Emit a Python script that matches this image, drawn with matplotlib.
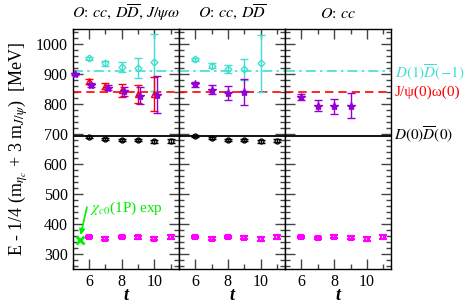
import numpy as np
import matplotlib
matplotlib.use("Agg")
import matplotlib.pyplot as plt
from matplotlib.ticker import MultipleLocator

plt.rcParams['font.family'] = ['Liberation Serif', 'DejaVu Serif']
plt.rcParams['mathtext.fontset'] = 'stix'

# thresholds (MeV)
thr_d1d1 = 910
thr_jpsiomega = 840
thr_d0d0 = 692
chi_c0_exp = 346

# panel 1: O: cc, DDbar, J/psi omega
p1_cyan_t = [6, 7, 8, 9, 10]
p1_cyan_E = [953, 936, 923, 920, 939]
p1_cyan_err = [5, 8, 16, 33, 95]

p1_red_t = [6, 7, 8, 9, 10]
p1_red_E = [876, 860, 846, 833, 834]
p1_red_err = [8, 11, 21, 30, 57]

p1_purple_t = [5, 6, 7, 8, 9, 10]
p1_purple_E = [900, 863, 855, 843, 828, 831]
p1_purple_err = [4, 6, 9, 15, 29, 62]

p1_black_t = [6, 7, 8, 9, 10, 11]
p1_black_E = [691, 684, 680, 679, 675, 676]
p1_black_err = [3, 3, 3, 4, 6, 6]

p1_mag_t = [6, 7, 8, 9, 10, 11]
p1_mag_E = [355, 350, 356, 354, 350, 355]
p1_mag_err = [4, 4, 4, 5, 6, 6]

# panel 2: O: cc, DDbar
p2_cyan_t = [6, 7, 8, 9, 10]
p2_cyan_E = [949, 928, 917, 916, 936]
p2_cyan_err = [6, 9, 13, 35, 95]

p2_purple_t = [6, 7, 8, 9]
p2_purple_E = [866, 848, 838, 840]
p2_purple_err = [8, 16, 23, 43]

p2_black_t = [6, 7, 8, 9, 10, 11]
p2_black_E = [694, 687, 680, 679, 675, 678]
p2_black_err = [3, 3, 3, 4, 6, 6]

p2_mag_t = [6, 7, 8, 9, 10, 11]
p2_mag_E = [355, 350, 356, 353, 349, 355]
p2_mag_err = [4, 4, 4, 5, 6, 6]

# panel 3: O: cc
p3_purple_t = [6, 7, 8, 9]
p3_purple_E = [823, 795, 792, 795]
p3_purple_err = [11, 18, 25, 43]

p3_mag_t = [6, 7, 8, 9, 10, 11]
p3_mag_E = [355, 351, 357, 353, 349, 355]
p3_mag_err = [4, 4, 4, 5, 6, 6]

titles = [r"$O\!:\,cc,\,D\overline{D},\,J/\psi\omega$",
          r"$O\!:\,cc,\,D\overline{D}$",
          r"$O\!:\,cc$"]

cyan = '#40e0d0'
purple = '#9400d3'
magenta = '#ff00ff'
green = '#00ee00'

fig = plt.figure(figsize=(4.65, 3.03), dpi=100)
left, bottom, w, h = 72.5 / 465, 1 - 268.5 / 303, 106.3 / 465, 239.2 / 303
axes = [fig.add_axes([left + i * w, bottom, w, h]) for i in range(3)]


def eb(ax, t, E, err, color, marker, ms=4, mfc='none', mew=1.0, dt=0.0):
    ax.errorbar(np.array(t) + dt, E, yerr=err, fmt=marker, color=color, ms=ms,
                mfc=mfc, mec=color, mew=mew, capsize=3.2, elinewidth=1.0,
                capthick=1.1, clip_on=False, zorder=3)


for i, ax in enumerate(axes):
    ax.axhline(thr_d1d1, color=cyan, ls=(0, (6, 2.5, 1.5, 2.5)), lw=1.2)
    ax.axhline(thr_jpsiomega, color='red', ls=(0, (5, 3)), lw=1.2)
    ax.axhline(thr_d0d0, color='black', ls='-', lw=1.3)

eb(axes[0], p1_cyan_t, p1_cyan_E, p1_cyan_err, cyan, 'D', ms=3.5)
eb(axes[0], p1_red_t, p1_red_E, p1_red_err, 'red', '^', ms=4.5)
eb(axes[0], p1_purple_t, p1_purple_E, p1_purple_err, purple, '*', ms=6, mfc=purple, dt=0.15)
eb(axes[0], p1_black_t, p1_black_E, p1_black_err, 'black', 'o', ms=3.5)
eb(axes[0], p1_mag_t, p1_mag_E, p1_mag_err, magenta, 's', ms=3.5, mew=1.5)

eb(axes[1], p2_cyan_t, p2_cyan_E, p2_cyan_err, cyan, 'D', ms=3.5)
eb(axes[1], p2_purple_t, p2_purple_E, p2_purple_err, purple, '*', ms=6, mfc=purple)
eb(axes[1], p2_black_t, p2_black_E, p2_black_err, 'black', 'o', ms=3.5)
eb(axes[1], p2_mag_t, p2_mag_E, p2_mag_err, magenta, 's', ms=3.5, mew=1.5)

eb(axes[2], p3_purple_t, p3_purple_E, p3_purple_err, purple, '*', ms=6, mfc=purple)
eb(axes[2], p3_mag_t, p3_mag_E, p3_mag_err, magenta, 's', ms=3.5, mew=1.5)

# experimental chi_c0
axes[0].plot([5.47], [chi_c0_exp], 'x', color=green, ms=6, mew=2, clip_on=False, zorder=4)
axes[0].annotate('', xy=(5.5, 362), xytext=(5.88, 455),
                 arrowprops=dict(arrowstyle='-|>', color=green, lw=1.2,
                                 mutation_scale=8, shrinkA=0, shrinkB=0))
axes[0].text(6.05, 452, r"$\chi_{c0}$(1P) exp", color=green, fontsize=11,
             va='center', ha='left')

for i, ax in enumerate(axes):
    ax.set_xlim(5, 11.5)
    ax.set_ylim(250, 1050)
    ax.xaxis.set_major_locator(MultipleLocator(2))
    ax.xaxis.set_minor_locator(MultipleLocator(1))
    ax.yaxis.set_major_locator(MultipleLocator(100))
    ax.yaxis.set_minor_locator(MultipleLocator(20))
    ax.tick_params(which='both', direction='in', top=True, right=True,
                   labelsize=11.5, width=1.0, color='#444444')
    ax.tick_params(which='major', length=7)
    ax.tick_params(which='minor', length=3.5)
    ax.tick_params(axis='x', pad=4)
    for s in ax.spines.values():
        s.set_linewidth(1.0)
    ax.set_xlabel("t", fontsize=13, fontstyle='italic', fontweight='bold',
                  labelpad=-2)
    ax.set_title(titles[i], fontsize=11.5, pad=8)
    if i > 0:
        ax.tick_params(labelleft=False)

axes[0].set_ylabel(r"E - 1/4 (m$_{\eta_c}$ + 3 m$_{J/\psi}$)  [MeV]",
                   fontsize=13, labelpad=4)

# threshold labels on the right
axes[2].text(11.72, thr_d1d1 - 6, r"$\mathit{D(1)\overline{D}(-1)}$", color=cyan,
             fontsize=11, va='center', ha='left', clip_on=False)
axes[2].text(11.72, thr_jpsiomega - 2, "J/ψ(0)ω(0)", color='red',
             fontsize=11, va='center', ha='left', clip_on=False)
axes[2].text(11.65, thr_d0d0 + 5, r"$\mathit{D(0)\overline{D}(0)}$", color='black',
             fontsize=11, va='center', ha='left', clip_on=False)

fig.savefig("out.png", dpi=100)
